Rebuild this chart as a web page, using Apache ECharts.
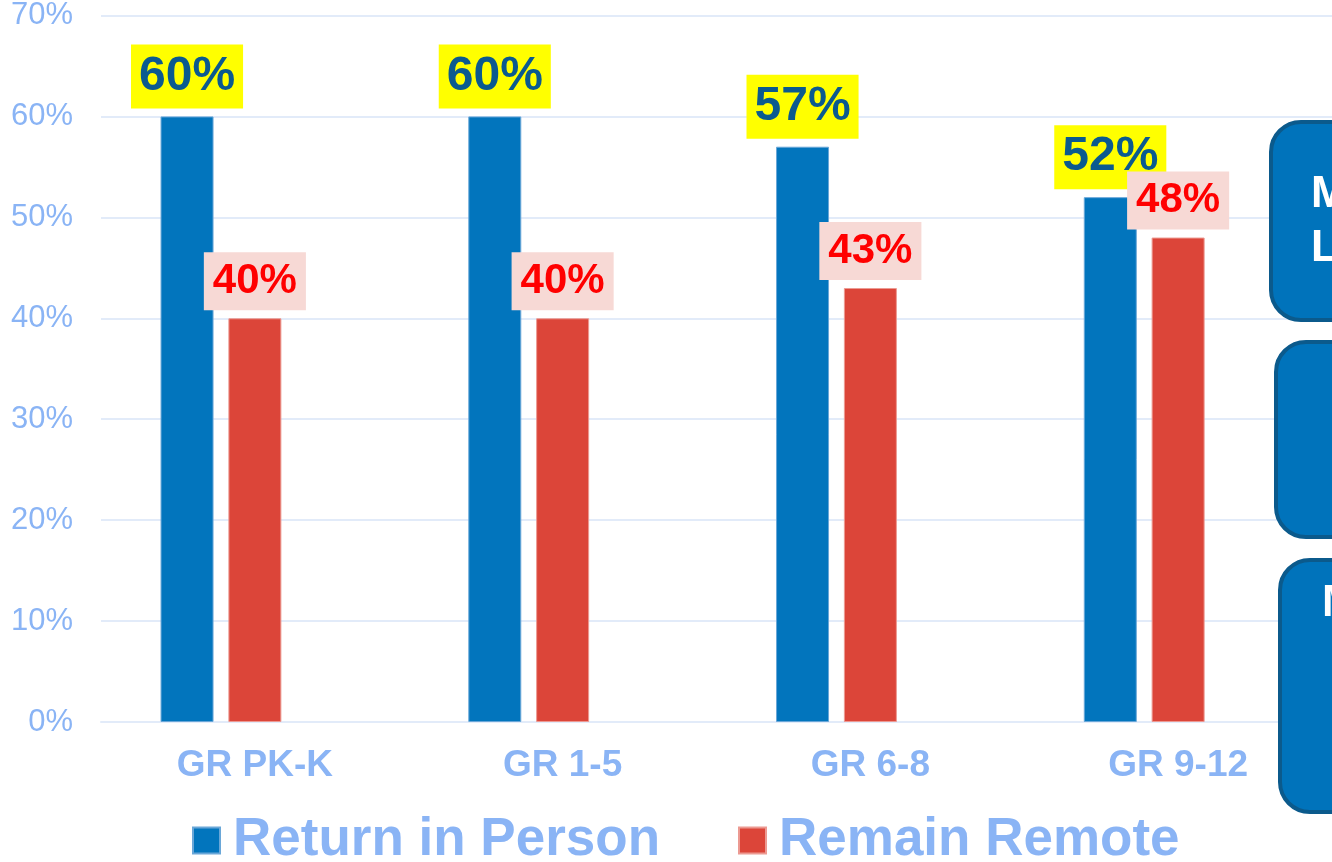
<!DOCTYPE html>
<html>
<head>
<meta charset="utf-8">
<title>Return in Person vs Remain Remote</title>
<script src="https://cdn.jsdelivr.net/npm/echarts@6/dist/echarts.min.js"></script>
<style>
  html, body { margin: 0; padding: 0; background: #ffffff; }
  #main { width: 1332px; height: 862px; }
</style>
</head>
<body>
<div id="main"></div>
<script>
// data
var grades = ['GR PK-K', 'GR 1-5', 'GR 6-8', 'GR 9-12'];
var returnInPerson = [60, 60, 57, 52];
var remainRemote = [40, 40, 43, 48];
var yTicks = [0, 10, 20, 30, 40, 50, 60, 70];

var AXIS_BLUE = '#8ab4f5';
var FONT = '"Liberation Sans", Arial, sans-serif';

var myChart = echarts.init(document.getElementById('main'));

// boxes on the right edge, cut off by the frame
function sideBox(x, y, h) {
    return {
        type: 'rect',
        shape: { x: x, y: y, width: 200, height: h, r: 30 },
        style: { fill: '#0073bb', stroke: '#0b5a8c', lineWidth: 4 },
        z: 10
    };
}
function sideText(x, y, t) {
    return {
        type: 'text',
        x: x, y: y,
        style: { text: t, fill: '#ffffff', font: 'bold 44px ' + FONT, verticalAlign: 'middle' },
        z: 11
    };
}

var option = {
    backgroundColor: '#ffffff',
    animation: false,
    textStyle: { fontFamily: FONT },
    grid: { left: 101, right: -1, top: 15, bottom: 140, containLabel: false },
    legend: {
        data: ['Return in Person', 'Remain Remote'],
        left: 187,
        top: 809,
        icon: 'rect',
        itemWidth: 27,
        itemHeight: 26,
        itemGap: 78,
        textStyle: {
            color: AXIS_BLUE, fontSize: 53, fontWeight: 'bold', lineHeight: 53,
            fontFamily: FONT, padding: [0, 0, 0, 8]
        }
    },
    xAxis: {
        type: 'category',
        data: grades,
        axisLine: { show: true, lineStyle: { color: '#e2ebf9', width: 2 } },
        axisTick: { show: false },
        axisLabel: { color: AXIS_BLUE, fontSize: 37, fontWeight: 'bold', lineHeight: 36, margin: 26 }
    },
    yAxis: {
        type: 'value',
        min: yTicks[0],
        max: yTicks[yTicks.length - 1],
        interval: 10,
        axisLine: { show: false },
        axisTick: { show: false },
        axisLabel: { color: AXIS_BLUE, fontSize: 31, margin: 28, formatter: '{value}%' },
        splitLine: { lineStyle: { color: '#e2ebf9', width: 2 } }
    },
    series: [
        {
            name: 'Return in Person',
            type: 'bar',
            data: returnInPerson,
            barWidth: 53,
            barGap: '28%',
            itemStyle: { color: '#0275bd', borderColor: '#6aa7d8', borderWidth: 1 },
            label: {
                show: true, position: 'top', distance: 8,
                formatter: '{c}%',
                color: '#0b5a8f', fontSize: 48, fontWeight: 'bold', lineHeight: 46,
                backgroundColor: '#ffff00', padding: [9, 8, 9, 8]
            }
        },
        {
            name: 'Remain Remote',
            type: 'bar',
            data: remainRemote,
            barWidth: 53,
            barGap: '28%',
            itemStyle: { color: '#dc4539', borderColor: '#ec9a92', borderWidth: 1 },
            label: {
                show: true, position: 'top', distance: 8,
                formatter: '{c}%',
                color: '#ff0000', fontSize: 42, fontWeight: 'bold', lineHeight: 40,
                backgroundColor: '#f7d9d5', padding: [9, 9, 9, 9]
            }
        },
        {
            // empty third slot, keeps the bar pair left of the tick centre
            name: 'spacer',
            type: 'bar',
            data: ['-', '-', '-', '-'],
            barWidth: 53,
            barGap: '28%'
        }
    ],
    graphic: [
        sideBox(1271, 122, 198),
        sideBox(1276, 342, 195),
        sideBox(1280, 560, 252),
        sideText(1311, 195, 'M'),
        sideText(1311, 249, 'L'),
        sideText(1322, 604, 'M')
    ]
};

myChart.setOption(option);
</script>
</body>
</html>
